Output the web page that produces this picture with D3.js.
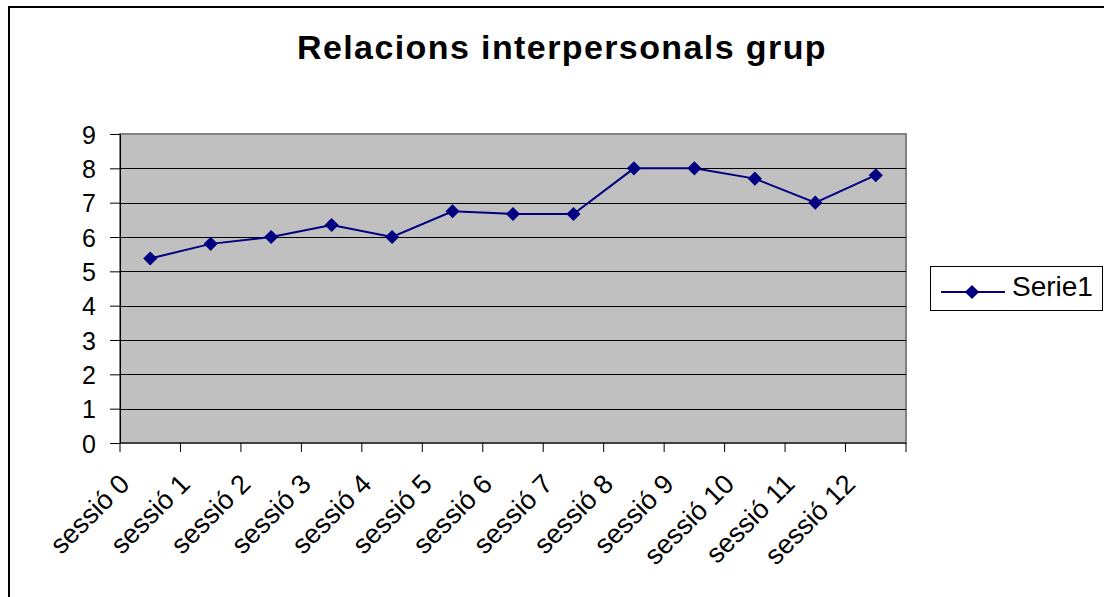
<!DOCTYPE html>
<html><head><meta charset="utf-8">
<script src="https://cdn.jsdelivr.net/npm/d3@7"></script>
<style>body{margin:0;background:#fff;}svg{display:block;font-family:"Liberation Sans",Arial,sans-serif;}</style>
</head><body><svg id="c" width="1104" height="597"></svg>
<script>
const categories = ["sessió 0","sessió 1","sessió 2","sessió 3","sessió 4","sessió 5","sessió 6","sessió 7","sessió 8","sessió 9","sessió 10","sessió 11","sessió 12"];
const values = [5.375, 5.8, 6, 6.35, 6, 6.75, 6.67, 6.67, 8, 8, 7.7, 7, 7.8];
const yTicks = [0,1,2,3,4,5,6,7,8,9];
const seriesName = "Serie1";
const title = "Relacions interpersonals grup";

const svg = d3.select("#c");
const L = 120, R = 906, T = 134, B = 443;
svg.append("rect").attr("x",9).attr("y",7).attr("width",1104).attr("height",600).attr("fill","#fff").attr("stroke","#000").attr("stroke-width",2);

const x = d3.scaleBand().domain(categories).range([L,R]);
const y = d3.scaleLinear().domain([0,9]).range([B,T]);

svg.append("rect").attr("x",L).attr("y",T).attr("width",R-L).attr("height",B-T).attr("fill","#C0C0C0").attr("stroke","#808080").attr("stroke-width",2);

svg.append("g").selectAll("line").data(yTicks.slice(1,-1)).join("line")
  .attr("x1",L).attr("x2",R).attr("y1",d=>Math.round(y(d))+0.5).attr("y2",d=>Math.round(y(d))+0.5)
  .attr("stroke","#000").attr("stroke-width",1);

// y axis
const ya = svg.append("g").attr("transform",`translate(${L},0)`)
  .call(d3.axisLeft(y).tickValues(yTicks).tickSize(10).tickPadding(14).tickFormat(d3.format("d")));
ya.attr("font-size",null).attr("font-family",null);
ya.select(".domain").attr("stroke","#000");
ya.selectAll("line").attr("stroke","#000");
ya.selectAll("text").attr("font-size",25).attr("fill","#000").attr("dy","0.36em");

// x axis ticks at band boundaries
const xa = svg.append("g").attr("transform",`translate(0,${B})`);
xa.append("line").attr("x1",L).attr("x2",R).attr("stroke","#000");
const bounds = categories.map(c=>x(c)).concat([R]);
xa.selectAll("line.t").data(bounds).join("line").attr("class","t")
  .attr("x1",d=>d).attr("x2",d=>d).attr("y1",0).attr("y2",9).attr("stroke","#000");
xa.selectAll("text").data(categories).join("text")
  .attr("transform",d=>`translate(${x(d)+x.bandwidth()/2-19},${42.5}) rotate(-45)`)
  .attr("text-anchor","end").attr("font-size",27).attr("fill","#000")
  .text(d=>d);

// line
const line = d3.line().x((d,i)=>x(categories[i])+x.bandwidth()/2).y(d=>y(d));
svg.append("path").datum(values).attr("d",line).attr("fill","none").attr("stroke","#000080").attr("stroke-width",2);
svg.append("g").selectAll("path").data(values).join("path")
  .attr("d",d3.symbol().type(d3.symbolSquare).size(100))
  .attr("transform",(d,i)=>`translate(${x(categories[i])+x.bandwidth()/2},${y(d)}) rotate(45)`)
  .attr("fill","#000080");

// title
svg.append("text").attr("x",562).attr("y",59).attr("text-anchor","middle").attr("font-size",34).attr("letter-spacing",1.4).attr("font-weight","bold").attr("fill","#000").text(title);

// legend
const lg = svg.append("g");
lg.append("rect").attr("x",930.5).attr("y",266.5).attr("width",172).attr("height",44).attr("fill","#fff").attr("stroke","#000");
lg.append("line").attr("x1",941).attr("x2",1005).attr("y1",292).attr("y2",292).attr("stroke","#000080").attr("stroke-width",2);
lg.append("path").attr("d",d3.symbol().type(d3.symbolSquare).size(100)).attr("transform","translate(972,292) rotate(45)").attr("fill","#000080");
lg.append("text").attr("x",1012).attr("y",296).attr("font-size",28).attr("fill","#000").text(seriesName);
</script></body></html>
